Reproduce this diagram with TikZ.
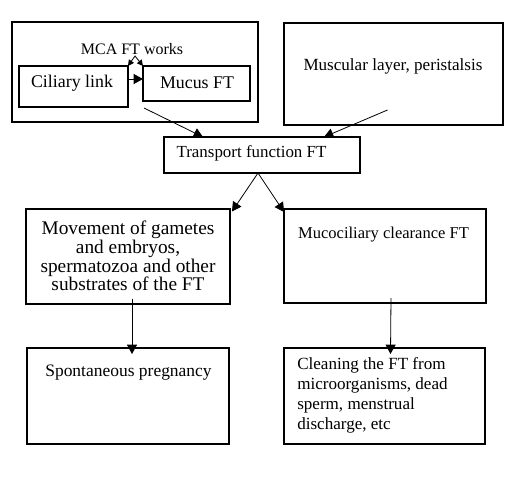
\documentclass[tikz,border=0pt]{standalone}
\usepackage{fontspec}
\setmainfont{Liberation Serif}
\usetikzlibrary{calc,arrows.meta,positioning}
\newlength{\unitpx}
\setlength{\unitpx}{0.75pt}
\tikzset{
    flow arrow/.style = {
        -{Triangle[length=7pt,width=7.5pt]},
        line width=0.6pt,
        },
    small arrow/.style = {
        {Triangle[length=4.5pt,width=4.5pt]}-{Triangle[length=4.5pt,width=4.5pt]},
        line width=0.6pt,
        },
}
\begin{document}
\begin{tikzpicture}
            [
                x=0.75pt, y=-0.75pt,
                FlowBox/.style={draw, line width=1.5pt, outer sep=0pt, inner sep=0pt},
                BoxText/.style={font=\fontsize{12.8}{15}\selectfont, inner sep=0pt},
                BigText/.style={font=\fontsize{13.4}{15}\selectfont, inner sep=0pt},
            ]
            \useasboundingbox (0,0) rectangle (518,483);

            % top row
            \node [FlowBox, minimum width=246\unitpx, minimum height=100\unitpx] (mca) at (135,72) {};
            \node [BoxText, font=\fontsize{12}{14}\selectfont] (mcaTitle) at (132,49) {MCA FT works};
            \node [FlowBox, minimum width=109\unitpx, minimum height=41\unitpx] (ciliary) at (73.5,86.5) {};
            \node [BigText] (ciliaryTxt) at (72,83) {Ciliary link};
            \node [FlowBox, minimum width=107\unitpx, minimum height=35\unitpx] (mucus) at (196.5,83.5) {};
            \node [BigText] (mucusTxt) at (197,83) {Mucus FT};

            \node [FlowBox, minimum width=219\unitpx, minimum height=102\unitpx] (muscle) at (393.5,74) {};
            \node [BoxText] (muscleTxt) at (393,66.5) {Muscular layer, peristalsis};

            % transport
            \node [FlowBox, minimum width=196\unitpx, minimum height=36\unitpx] (transport) at (262,155) {};
            \node [BoxText, font=\fontsize{12.7}{15}\selectfont] (transportTxt) at (251.5,153) {Transport function FT};

            % middle row
            \node [FlowBox, minimum width=204\unitpx, minimum height=95\unitpx, align=center,
                   font=\fontsize{14.5}{14}\selectfont] (movement) at (128,256)
                  {Movement of gametes\\and embryos,\\spermatozoa and other\\substrates of the FT};
            \node [FlowBox, minimum width=202\unitpx, minimum height=94\unitpx] (mucocil) at (385,256) {};
            \node [BoxText, font=\fontsize{12.4}{15}\selectfont] (mucocilTxt) at (383.5,234.5) {Mucociliary clearance FT};

            % bottom row
            \node [FlowBox, minimum width=202\unitpx, minimum height=96\unitpx] (spont) at (128,396) {};
            \node [BoxText, font=\fontsize{13.1}{15}\selectfont] (spontTxt) at (128.5,372.5) {Spontaneous pregnancy};
            \node [FlowBox, minimum width=201\unitpx, minimum height=96\unitpx] (cleaning) at (384.5,396) {};
            \node [BoxText, align=left, anchor=west] (cleaningTxt) at (297,395)
                  {Cleaning the FT from\\microorganisms, dead\\sperm, menstrual\\discharge, etc};

            % connectors
            \draw[flow arrow] ($(ciliary.east)+(0,-7.5)$) -- ($(mucus.west)+(0,-4.5)$);
            \draw[small arrow] (ciliary.north east) -- ++(7,-10) -- (mucus.north west);
            \draw[flow arrow] ($(mca.south)+(9,-14)$) -- ($(transport.north)+(-59,0)$);
            \draw[flow arrow] ($(muscle.south)+(-6,-15)$) -- ($(transport.north)+(62,0)$);
            \draw[flow arrow] ($(transport.south)+(-4,0)$) -- ($(movement.north east)+(2,3)$);
            \draw[flow arrow] ($(transport.south)+(-4,0)$) -- ($(mucocil.north west)+(0,3)$);
            \draw[flow arrow] ($(movement.south)+(4,-5)$) -- ($(spont.north)+(4,6)$);
            \draw[flow arrow] ($(mucocil.south)+(6,-5)$) -- ($(cleaning.north)+(6,6)$);
\end{tikzpicture}
\end{document}
